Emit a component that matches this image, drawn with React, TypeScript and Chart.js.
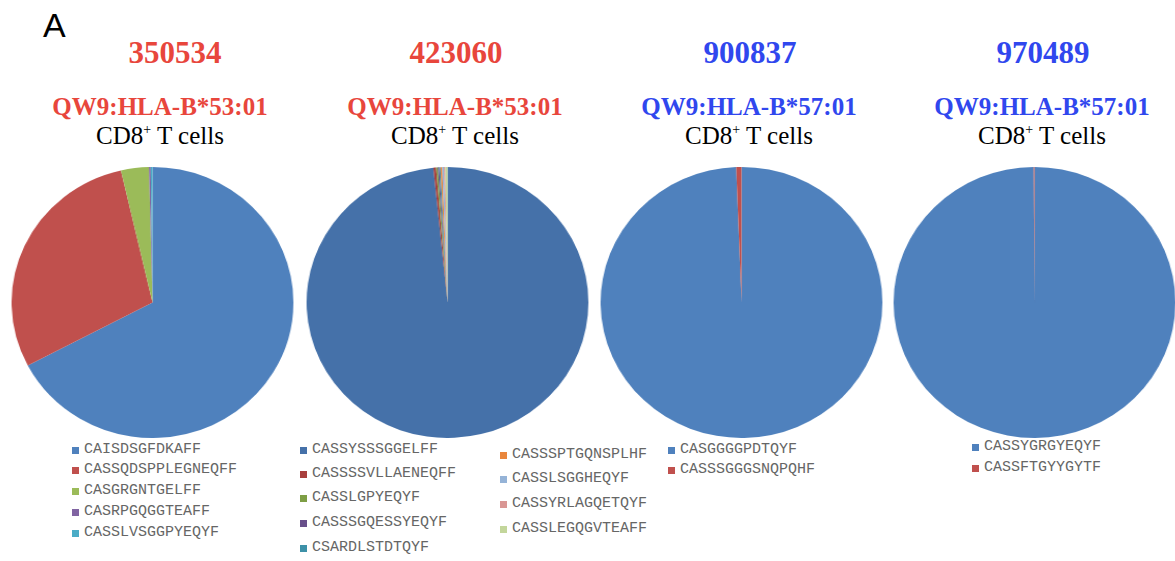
import React, { useEffect, useRef } from "react";
import { Chart, registerables } from "chart.js";

Chart.register(...registerables);

// ---------- data ----------
const donorIds = ["350534", "423060", "900837", "970489"];
const restrictions = ["QW9:HLA-B*53:01", "QW9:HLA-B*53:01", "QW9:HLA-B*57:01", "QW9:HLA-B*57:01"];

const clonotypes350534 = ["CAISDSGFDKAFF", "CASSQDSPPLEGNEQFF", "CASGRGNTGELFF", "CASRPGQGGTEAFF", "CASSLVSGGPYEQYF"];
const share350534 = [67.3, 29.1, 3.2, 0.2, 0.2];

const clonotypes423060 = [
  "CASSYSSSGGELFF", "CASSSSVLLAENEQFF", "CASSLGPYEQYF", "CASSSGQESSYEQYF", "CSARDLSTDTQYF",
  "CASSSPTGQNSPLHF", "CASSLSGGHEQYF", "CASSYRLAGQETQYF", "CASSLEGQGVTEAFF",
];
const share423060 = [98.4, 0.3, 0.2, 0.15, 0.15, 0.2, 0.2, 0.15, 0.25];

const clonotypes900837 = ["CASGGGGPDTQYF", "CASSSGGGSNQPQHF"];
const share900837 = [99.4, 0.6];

const clonotypes970489 = ["CASSYGRGYEQYF", "CASSFTGYYGYTF"];
const share970489 = [99.9, 0.1];

// ---------- styles ----------
const officeColors = ["#4F81BD", "#C0504D", "#9BBB59", "#8064A2", "#4BACC6"];
const darkColors = ["#4571A9", "#A83F3D", "#7E9E45", "#684F8A", "#3D91A8", "#E9863C", "#95B3D7", "#D99694", "#C3D69B"];
const red = "#E8463C";
const blue = "#3047EE";

type PanelSpec = {
  labels: string[];
  values: number[];
  colors: string[];
  titleColor: string;
  cx: number;
  legendCols: { swatchX: number; rows: number[] }[];
};

const panels: PanelSpec[] = [
  {
    labels: clonotypes350534, values: share350534, colors: officeColors, titleColor: red, cx: 152,
    legendCols: [{ swatchX: 72, rows: [450, 470, 491, 512, 533] }],
  },
  {
    labels: clonotypes423060, values: share423060, colors: darkColors, titleColor: red, cx: 447,
    legendCols: [
      { swatchX: 300, rows: [450, 474, 498, 523, 548] },
      { swatchX: 500, rows: [455, 479, 504, 529] },
    ],
  },
  {
    labels: clonotypes900837, values: share900837, colors: officeColors, titleColor: blue, cx: 741,
    legendCols: [{ swatchX: 668, rows: [450, 470] }],
  },
  {
    labels: clonotypes970489, values: share970489, colors: officeColors, titleColor: blue, cx: 1034,
    legendCols: [{ swatchX: 972, rows: [447, 468] }],
  },
];

const PIE_SIZE = 271;
const PIE_CY = 302;
const STRETCH_X = 1.04;

function PieChart({ spec }: { spec: PanelSpec }) {
  const ref = useRef<HTMLCanvasElement | null>(null);
  useEffect(() => {
    if (!ref.current) return;
    const chart = new Chart(ref.current, {
      type: "pie",
      data: {
        labels: spec.labels,
        datasets: [
          {
            data: spec.values,
            backgroundColor: spec.colors.slice(0, spec.values.length),
            borderWidth: 0,
          },
        ],
      },
      options: {
        animation: false,
        responsive: false,
        devicePixelRatio: 1,
        layout: { padding: 0 },
        plugins: { legend: { display: false }, tooltip: { enabled: false }, title: { display: false } },
      },
    });
    return () => chart.destroy();
  }, [spec]);
  return (
    <div
      style={{
        position: "absolute",
        left: spec.cx - PIE_SIZE / 2,
        top: PIE_CY - PIE_SIZE / 2,
        width: PIE_SIZE,
        height: PIE_SIZE,
        transform: `scaleX(${STRETCH_X})`,
        transformOrigin: "50% 50%",
      }}
    >
      <canvas ref={ref} width={PIE_SIZE} height={PIE_SIZE} />
    </div>
  );
}

const centered = (x: number, top: number, size: number): React.CSSProperties => ({
  position: "absolute",
  left: x,
  top,
  transform: "translateX(-50%)",
  whiteSpace: "nowrap",
  fontSize: size,
  lineHeight: `${size}px`,
  fontFamily: "'Liberation Serif', 'Times New Roman', serif",
});

function Panel({ spec, idx }: { spec: PanelSpec; idx: number }) {
  let k = 0;
  return (
    <>
      <div style={{ ...centered(spec.cx + (idx === 0 ? 23 : 9), 37, 31), fontWeight: "bold", color: spec.titleColor }}>
        {donorIds[idx]}
      </div>
      <div style={{ ...centered(spec.cx + 8, 94, 25), fontWeight: "bold", color: spec.titleColor }}>
        {restrictions[idx]}
      </div>
      <div style={{ ...centered(spec.cx + 8, 123, 25), color: "#000" }}>
        CD8<sup style={{ fontSize: 14, verticalAlign: "top", lineHeight: "14px" }}>+</sup> T cells
      </div>
      <PieChart spec={spec} />
      {spec.legendCols.map((col, ci) =>
        col.rows.map((y) => {
          const i = k++;
          return (
            <div
              key={`${ci}-${i}`}
              style={{
                position: "absolute",
                left: col.swatchX,
                top: y - 8,
                height: 16,
                display: "flex",
                alignItems: "center",
                whiteSpace: "nowrap",
              }}
            >
              <span style={{ display: "inline-block", width: 7, height: 7, background: spec.colors[i], marginRight: 5 }} />
              <span
                style={{
                  fontFamily: "'Liberation Mono', 'Courier New', monospace",
                  fontSize: 15,
                  lineHeight: "16px",
                  color: "#666",
                }}
              >
                {spec.labels[i]}
              </span>
            </div>
          );
        })
      )}
    </>
  );
}

export default function App() {
  return (
    <div style={{ position: "absolute", left: 0, top: 0, width: 1175, height: 561, background: "#fff", overflow: "hidden" }}>
      <div
        style={{
          position: "absolute",
          left: 43,
          top: 8,
          fontFamily: "'Liberation Sans', Arial, sans-serif",
          fontSize: 34,
          lineHeight: "34px",
          color: "#000",
        }}
      >
        A
      </div>
      {panels.map((p, i) => (
        <Panel key={i} spec={p} idx={i} />
      ))}
    </div>
  );
}
